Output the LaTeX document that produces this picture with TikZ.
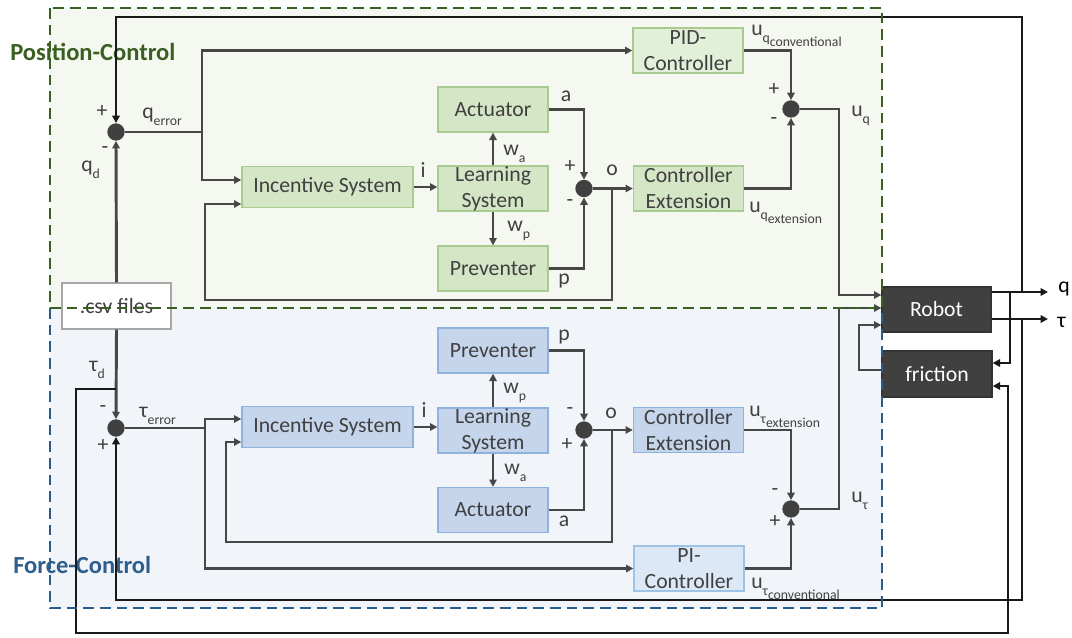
\documentclass[tikz,border=0pt]{standalone}
\usepackage{fontspec}
\setmainfont{Carlito}
\usetikzlibrary{arrows.meta,calc}
\definecolor{tgray}{HTML}{404040}
\definecolor{lgray}{HTML}{474747}
\definecolor{gfill}{HTML}{D5E6C6}
\definecolor{gline}{HTML}{A9CB8F}
\definecolor{gfilll}{HTML}{E2EFD9}
\definecolor{bfill}{HTML}{C5D5EB}
\definecolor{bline}{HTML}{8FB3DE}
\definecolor{bfilll}{HTML}{DCE8F6}
\definecolor{blinel}{HTML}{9DC3E6}
\definecolor{greg}{HTML}{F4F8F0}
\definecolor{breg}{HTML}{F1F5FA}
\definecolor{gdash}{HTML}{3A5F23}
\definecolor{bdash}{HTML}{2B5C8A}
\definecolor{darkbox}{HTML}{404040}
\definecolor{ptitle}{HTML}{3B5F21}
\definecolor{ftitle}{HTML}{2E5E8C}
\newcommand{\sbs}[1]{\raisebox{-0.3em}{\fontsize{10.3}{10.3}\selectfont #1}}
\begin{document}
\begin{tikzpicture}[x=0.75pt,y=-0.75pt,
  mainfont/.style={font=\fontsize{16.3}{19.5}\selectfont},
  lbl/.style={mainfont, text=tgray, inner sep=0pt},
  gbox/.style={mainfont, text=tgray, draw=gline, fill=gfill, line width=1pt, inner sep=0pt, align=center},
  gboxl/.style={gbox, fill=gfilll},
  bbox/.style={mainfont, text=tgray, draw=bline, fill=bfill, line width=1pt, inner sep=0pt, align=center},
  bboxl/.style={bbox, draw=blinel, fill=bfilll},
  dbox/.style={mainfont, text=white, draw=darkbox!80!black, fill=darkbox, line width=1pt, inner sep=0pt},
  std/.style={minimum width=82.5pt, minimum height=33.75pt},
  incb/.style={minimum width=128.25pt, minimum height=30.5pt},
  sumj/.style={circle, fill=darkbox, draw=none, minimum size=13pt, inner sep=0pt},
  arr/.style={draw=lgray, line width=2.2pt, -{Triangle[length=5.5pt,width=5.5pt]}},
  ln/.style={draw=lgray, line width=2.2pt},
  xarr/.style={draw=black!90, line width=2.2pt, -{Triangle[length=5.5pt,width=5.5pt]}},
  title/.style={font=\fontsize{18.4}{20}\selectfont\bfseries, inner sep=0pt, anchor=west}
]
% page
\fill[white] (0,0) rectangle (1072,637);
% regions
\fill[greg] (50,8) rectangle (882,308);
\fill[breg] (50,308) rectangle (882,608);
\node[title, text=ptitle] (ptitle) at (10,52) {Position-Control};
\node[title, text=ftitle] (ftitle) at (13,565) {Force-Control};

% ---------- nodes ----------
\node[mainfont, text=tgray, draw=black!35, fill=white, line width=1pt, inner sep=0pt,
      minimum width=81.75pt, minimum height=34.5pt] (csv) at (116.5,306) {.csv files};

% position control
\node[sumj] (jq) at (116,132) {};
\node[gbox, incb] (inc1) at (327.5,187) {Incentive System};
\node[gbox, std] (learn1) at (493,188.5) {Learning\\System};
\node[gbox, std] (act1) at (493,109.5) {Actuator};
\node[gbox, std] (prev1) at (493,268.5) {Preventer};
\node[sumj] (jo1) at (584,188.5) {};
\node[gboxl, std] (pid) at (688,50.5) {PID-\\Controller};
\node[gbox, std] (ce1) at (688.5,188.5) {Controller\\Extension};
\node[sumj] (jq2) at (791,109) {};

% force control
\node[sumj] (jt) at (116,428) {};
\node[bbox, incb] (inc2) at (327.5,427) {Incentive System};
\node[bbox, std] (learn2) at (493,430.5) {Learning\\System};
\node[bbox, std] (prev2) at (493,350.5) {Preventer};
\node[bbox, std] (act2) at (493,510) {Actuator};
\node[sumj] (jo2) at (584,430) {};
\node[bbox, std] (ce2) at (688.5,430) {Controller\\Extension};
\node[bboxl, std] (pi) at (689,568.5) {PI-\\Controller};
\node[sumj] (jt2) at (791,509) {};

% plant
\node[dbox, minimum width=81.75pt, minimum height=33.75pt] (robot) at (936.5,309.5) {Robot};
\node[dbox, minimum width=82.5pt, minimum height=34.5pt] (fric) at (937,374) {friction};

% named points
\coordinate (qout) at (1048,292);
\coordinate (tout) at (1048,319);
\coordinate (qsp) at (1022,292);
\coordinate (tsp) at (1022,319);
\coordinate (qfs) at (1010,292);
\coordinate (tdsp) at (116,389);
\coordinate (qe) at (202,132);
\coordinate (te) at (205,428);
\coordinate (os1) at (612,188.5);
\coordinate (os2) at (612,430);

% ---------- connectors : position ----------
\draw[arr] (csv.north) -- (jq.south);
\draw[ln] (jq.east) -- (qe);
\draw[arr] (qe) |- (pid.west);
\draw[arr] (qe) |- ($(inc1.west)+(0,-7)$);
\draw[arr] (inc1.east) -- (inc1.east -| learn1.west);
\draw[arr] (learn1.north) -- (act1.south);
\draw[arr] (learn1.south) -- (prev1.north);
\draw[arr] (act1.east) -| (jo1.north);
\draw[arr] (prev1.east) -| (jo1.south);
\draw[arr] (jo1.east) -- (ce1.west);
\draw[arr] (os1) -- (612,300) -- (205,300) |- ($(inc1.west)+(0,17)$);
\draw[arr] (pid.east) -| (jq2.north);
\draw[arr] (ce1.east) -| (jq2.south);
\draw[arr] (jq2.east) -- (839,109) |- ($(robot.west)+(0,-14.5)$);

% ---------- connectors : force ----------
\draw[arr] (csv.south) -- (jt.north);
\draw[ln] (jt.east) -- (te);
\draw[arr] (te) |- ($(inc2.west)+(0,-8)$);
\draw[arr] (te) |- (pi.west);
\draw[arr] (inc2.east) -- (inc2.east -| learn2.west);
\draw[arr] (learn2.north) -- (prev2.south);
\draw[arr] (learn2.south) -- (act2.north);
\draw[arr] (prev2.east) -| (jo2.north);
\draw[arr] (act2.east) -| (jo2.south);
\draw[arr] (jo2.east) -- (ce2.west);
\draw[arr] (os2) -- (612,542) -- (226,542) |- ($(inc2.west)+(0,15)$);
\draw[arr] (ce2.east) -| (jt2.north);
\draw[arr] (pi.east) -| (jt2.south);
\draw[arr] (jt2.east) -- (839,509) |- ($(robot.west)+(0,-1.5)$);

% ---------- plant loops ----------
\draw[arr] ($(fric.west)+(0,-4)$) -- (859,370) |- ($(robot.west)+(0,15.5)$);
\draw[xarr] (robot.east |- qout) -- (qout);
\draw[xarr] (robot.east |- tout) -- (tout);
\draw[xarr] (qfs) |- ($(fric.east)+(0,-11)$);
\draw[xarr] (qsp) -- (1022,17) -| (jq.north);
\draw[xarr] (tsp) -- (1022,600) -| (jt.south);
\draw[xarr] (tdsp) -- (76,389) -- (76,633) -- (1008,633) |- ($(fric.east)+(0,12)$);

% ---------- labels : position ----------
\node[lbl] at (102,112) {+};
\node[lbl] at (105,150) {-};
\node[lbl, anchor=west] at (81,170) {q\sbs{d}};
\node[lbl, anchor=west] at (142,117) {q\sbs{error}};
\node[lbl] at (423,170) {i};
\node[lbl, anchor=west] at (503,154) {w\sbs{a}};
\node[lbl, anchor=west] at (507,231) {w\sbs{p}};
\node[lbl] at (566,96) {a};
\node[lbl] at (564,281) {p};
\node[lbl] at (570,167) {+};
\node[lbl] at (570,203) {-};
\node[lbl] at (612,170) {o};
\node[lbl, anchor=west] at (751,36) {u\sbs{q\sbs{conventional}}};
\node[lbl, anchor=west] at (749,213) {u\sbs{q\sbs{extension}}};
\node[lbl] at (774,90) {+};
\node[lbl] at (774,121) {-};
\node[lbl, anchor=west] at (851,116) {u\sbs{q}};

% ---------- labels : force ----------
\node[lbl, anchor=west] at (89,370) {τ\sbs{d}};
\node[lbl] at (103,409) {-};
\node[lbl] at (103,446) {+};
\node[lbl, anchor=west] at (139,416) {τ\sbs{error}};
\node[lbl] at (424,410) {i};
\node[lbl, anchor=west] at (503,393) {w\sbs{p}};
\node[lbl, anchor=west] at (504,473) {w\sbs{a}};
\node[lbl] at (564,337) {p};
\node[lbl] at (564,521) {a};
\node[lbl] at (570,411) {-};
\node[lbl] at (567,445) {+};
\node[lbl] at (611,413) {o};
\node[lbl, anchor=west] at (749,417) {u\sbs{τ\sbs{extension}}};
\node[lbl, anchor=west] at (751,589) {u\sbs{τ\sbs{conventional}}};
\node[lbl] at (775,492) {-};
\node[lbl] at (775,522) {+};
\node[lbl, anchor=west] at (851,501) {u\sbs{τ}};

% outputs
\node[lbl, text=black, anchor=west] at (1058,289) {q};
\node[lbl, text=black, anchor=west] at (1057,322) {τ};

% ---------- dashed region borders ----------
\draw[bdash, line width=2.2pt, dash pattern=on 8pt off 4.5pt] (50,308) -- (50,608) -- (882,608) -- (882,308);
\draw[gdash, line width=2.2pt, dash pattern=on 8pt off 4.5pt] (50,8) rectangle (882,308);
\end{tikzpicture}
\end{document}
